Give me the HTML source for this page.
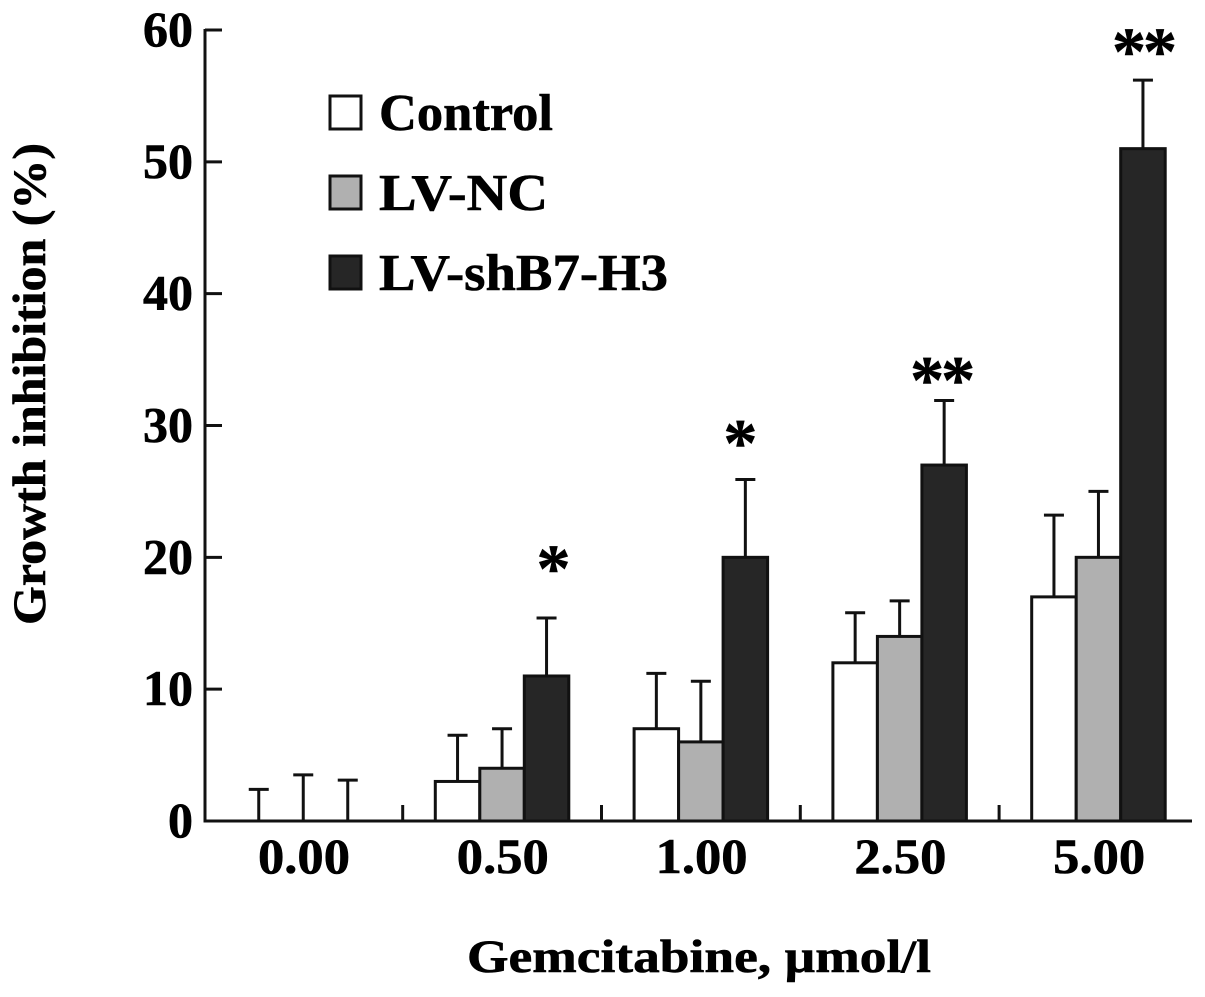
<!DOCTYPE html>
<html lang="en">
<head>
<meta charset="utf-8">
<title>Growth inhibition chart</title>
<style>
html,body{margin:0;padding:0;background:#fff;}
svg{display:block;}
text{font-family:"Liberation Serif",serif;font-weight:bold;fill:#000;stroke:#000;stroke-width:0.6px;}
</style>
</head>
<body>
<svg id="chart" xmlns="http://www.w3.org/2000/svg" width="1205" height="997" viewBox="0 0 1205 997">
<g id="marks"></g>
<g id="axes"></g>
<text transform="translate(45,384) rotate(-90)" text-anchor="middle" font-size="47" textLength="482" lengthAdjust="spacingAndGlyphs">Growth inhibition (%)</text>
<text x="699" y="972" text-anchor="middle" font-size="47" textLength="464" lengthAdjust="spacingAndGlyphs">Gemcitabine, µmol/l</text>
<g>
<g>
<rect x="330" y="96" width="31" height="33" fill="#fff" stroke="#111" stroke-width="3"/>
<text x="379" y="130" font-size="52" textLength="174" lengthAdjust="spacingAndGlyphs">Control</text>
</g>
<g>
<rect x="330" y="176" width="31" height="33" fill="#b0b0b0" stroke="#111" stroke-width="3"/>
<text x="379" y="210" font-size="52" textLength="169" lengthAdjust="spacingAndGlyphs">LV-NC</text>
</g>
<g>
<rect x="330" y="256" width="31" height="33" fill="#262626" stroke="#111" stroke-width="3"/>
<text x="379" y="290" font-size="52" textLength="289" lengthAdjust="spacingAndGlyphs">LV-shB7-H3</text>
</g>
</g>
</svg>
<script>
const categories = ["0.00", "0.50", "1.00", "2.50", "5.00"];
const yTickLabels = [0, 10, 20, 30, 40, 50, 60];
const controlValues = [0, 3, 7, 12, 17];
const nCValues = [0, 4, 6, 14, 20];
const shValues = [0, 11, 20, 27, 51];
const controlErrorTops = [2.4, 6.5, 11.2, 15.8, 23.2];
const nCErrorTops = [3.5, 7, 10.6, 16.7, 25];
const shErrorTops = [3.1, 15.4, 25.9, 31.9, 56.2];
const significance = ["", "*", "*", "**", "**"];
const significanceLevels = [0, 17.45, 26.95, 31.75, 56.65];

const SVG_NS = "http://www.w3.org/2000/svg";
const marks = document.getElementById("marks");
const axes = document.getElementById("axes");
const INK = "#111";

function yScale(v) { return 821 - v * (791 / 60); }
function groupCenter(i) { return 303 + i * 198.8; }
function barLeft(i, s) { return groupCenter(i) - 66.5 + s * 44.5; }
function starCenter(i) {
  const nudge = { 1: 7, 2: -5, 3: -3, 4: 0 };
  return barLeft(i, 2) + 22.25 + (nudge[i] || 0);
}

function make(tag, attrs, parent) {
  const el = document.createElementNS(SVG_NS, tag);
  for (const k in attrs) el.setAttribute(k, attrs[k]);
  parent.appendChild(el);
  return el;
}

const seriesList = [
  { key: "control", values: controlValues, tops: controlErrorTops, fill: "#ffffff" },
  { key: "lv-nc", values: nCValues, tops: nCErrorTops, fill: "#b0b0b0" },
  { key: "lv-shb7-h3", values: shValues, tops: shErrorTops, fill: "#262626" }
];

seriesList.forEach(function (series, s) {
  categories.forEach(function (cat, i) {
    const left = barLeft(i, s);
    const mid = left + 22.25;
    const top = yScale(series.tops[i]);
    const base = yScale(series.values[i]);
    const stem = make("line", { x1: mid, x2: mid, y1: top, y2: base, stroke: INK, "stroke-width": 3 }, marks);
    
    
    const cap = make("line", { x1: mid - 10, x2: mid + 10, y1: top, y2: top, stroke: INK, "stroke-width": 3 }, marks);
    
    
    if (series.values[i] > 0) {
      const bar = make("rect", { x: left, y: base, width: 44.5, height: yScale(0) - base, fill: series.fill, stroke: INK, "stroke-width": 3 }, marks);
      
      
    }
  });
});

significance.forEach(function (label, i) {
  if (!label) return;
  const t = make("text", { x: starCenter(i), y: yScale(significanceLevels[i]), "text-anchor": "middle", "font-size": 68, "letter-spacing": label.length > 1 ? -3 : 0 }, marks);
  t.textContent = label;
  
  
});

const yLine = make("line", { x1: 205, x2: 205, y1: yScale(60) - 1, y2: yScale(0) + 1.5, stroke: INK, "stroke-width": 3 }, axes);


const xLine = make("line", { x1: 204, x2: 1192, y1: yScale(0), y2: yScale(0), stroke: INK, "stroke-width": 3 }, axes);



yTickLabels.forEach(function (v) {
  const y = yScale(v);
  if (v > 0) {
    const tick = make("line", { x1: 205, x2: 222, y1: y, y2: y, stroke: INK, "stroke-width": 3 }, axes);
    
    
  }
  const t = make("text", { x: 193, y: y + 16, "text-anchor": "end", "font-size": 50 }, axes);
  t.textContent = String(v);
  
  
});

categories.forEach(function (cat, i) {
  const boundary = groupCenter(i) + 99.7;
  if (i < categories.length - 1) {
    const tick = make("line", { x1: boundary, x2: boundary, y1: yScale(0) - 16, y2: yScale(0), stroke: INK, "stroke-width": 3 }, axes);
    
    
  }
  const t = make("text", { x: groupCenter(i) + 1, y: 873, "text-anchor": "middle", "font-size": 50, textLength: 92, lengthAdjust: "spacingAndGlyphs" }, axes);
  t.textContent = cat;
  
  
});
</script>
</body>
</html>
